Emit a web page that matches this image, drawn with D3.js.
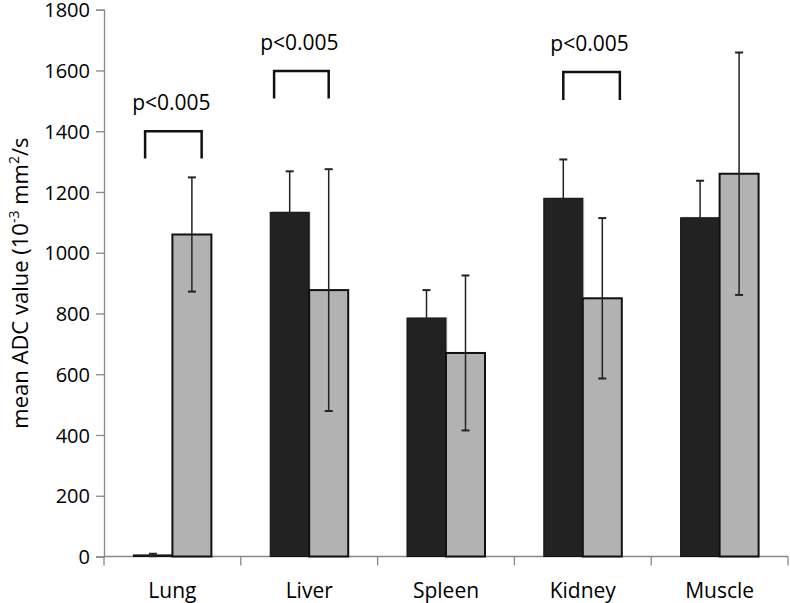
<!DOCTYPE html>
<html>
<head>
<meta charset="utf-8">
<script src="https://cdn.jsdelivr.net/npm/d3@7"></script>
<style>
  html, body { margin: 0; padding: 0; background: #fff; }
  svg { display: block; }
  text { font-family: "Open Sans", "Lato", sans-serif; fill: #000; }
</style>
</head>
<body>
<svg id="chart" width="790" height="603"></svg>
<script>
const categories = ["Lung", "Liver", "Spleen", "Kidney", "Muscle"];
const seriesA = [5, 1133, 785, 1179, 1115];      // dark bars
const errA    = [4, 135, 92, 128, 122];
const seriesB = [1060, 877, 670, 850, 1260];     // gray bars
const errB    = [188, 398, 255, 264, 399];
const yTicks  = [0, 200, 400, 600, 800, 1000, 1200, 1400, 1600, 1800];
// significance brackets: category, top value, leg bottom value, left/right offsets in bar widths from group start
const brackets = [
  { cat: "Lung",   top: 1400, bottom: 1310, x0: 0.3, x1: 1.75, label: "p<0.005" },
  { cat: "Liver",  top: 1598, bottom: 1508, x0: 0.1, x1: 1.5,  label: "p<0.005" },
  { cat: "Kidney", top: 1595, bottom: 1503, x0: 0.5, x1: 1.95, label: "p<0.005" }
];

const svg = d3.select("#chart");
const margin = { left: 104, right: 2, top: 9.7, bottom: 46.5 };
const W = 790, H = 603;

const x = d3.scaleBand().domain(categories).range([margin.left, W - margin.right]).paddingInner(0).paddingOuter(0);
const y = d3.scaleLinear().domain([0, 1800]).range([H - margin.bottom, margin.top]);

const barW = 39;
const groupOffset = (x.bandwidth() - 2 * barW) / 2;

// axes
const yAxis = d3.axisLeft(y).tickValues(yTicks).tickFormat(d3.format("d")).tickSize(8).tickPadding(6);
const gy = svg.append("g").attr("transform", `translate(${margin.left},0)`).call(yAxis);
gy.select(".domain").attr("stroke", "#888").attr("stroke-width", 1.3);
gy.selectAll(".tick line").attr("stroke", "#888").attr("stroke-width", 1.3);
gy.selectAll(".tick text").style("font-size", "20px").style("font-family", "'Open Sans', sans-serif").attr("dy", "0.36em");

const gx = svg.append("g").attr("transform", `translate(0,${y(0)})`);
gx.append("line").attr("x1", margin.left).attr("x2", W - margin.right)
  .attr("stroke", "#888").attr("stroke-width", 1.3);
// boundary ticks
const bounds = categories.map(c => x(c)).concat([x(categories[categories.length - 1]) + x.bandwidth()]);
gx.selectAll(".btick").data(bounds).enter().append("line")
  .attr("x1", d => d).attr("x2", d => d).attr("y1", 0).attr("y2", 9)
  .attr("stroke", "#888").attr("stroke-width", 1.3);
gx.selectAll(".xlab").data(categories).enter().append("text")
  .attr("x", d => x(d) + x.bandwidth() / 2)
  .attr("y", 41)
  .attr("text-anchor", "middle")
  .style("font-size", "21px")
  .text(d => d);

// bars
const data = categories.map((c, i) => ({ c, a: seriesA[i], ea: errA[i], b: seriesB[i], eb: errB[i] }));
const bars = svg.append("g");
data.forEach(d => {
  const xa = x(d.c) + groupOffset;
  bars.append("rect").attr("x", xa + 1.5).attr("y", y(d.a) - 1).attr("width", barW).attr("height", y(0) - y(d.a) + 1)
    .attr("fill", "#ddd");
  bars.append("rect").attr("x", xa).attr("y", y(d.a)).attr("width", barW).attr("height", y(0) - y(d.a))
    .attr("fill", "#222222").attr("stroke", "#111").attr("stroke-width", 1);
  bars.append("rect").attr("x", xa + barW).attr("y", y(d.b)).attr("width", barW).attr("height", y(0) - y(d.b))
    .attr("fill", "#b2b2b2").attr("stroke", "#111").attr("stroke-width", 2);
});

// error bars
const eg = svg.append("g").attr("stroke", "#222").attr("stroke-width", 1.5);
function errBar(cx, v, e) {
  eg.append("line").attr("x1", cx).attr("x2", cx).attr("y1", y(v + e)).attr("y2", y(Math.max(0, v - e)));
  eg.append("line").attr("x1", cx - 4).attr("x2", cx + 4).attr("y1", y(v + e)).attr("y2", y(v + e)).attr("stroke-width", 2);
  eg.append("line").attr("x1", cx - 4).attr("x2", cx + 4).attr("y1", y(Math.max(0, v - e))).attr("y2", y(Math.max(0, v - e))).attr("stroke-width", 2);
}
data.forEach(d => {
  const xa = x(d.c) + groupOffset;
  errBar(xa + barW / 2, d.a, d.ea);
  errBar(xa + barW * 1.5, d.b, d.eb);
});

// brackets
const bg = svg.append("g");
brackets.forEach(b => {
  const x0 = x(b.cat) + groupOffset + b.x0 * barW;
  const x1 = x(b.cat) + groupOffset + b.x1 * barW;
  bg.append("path")
    .attr("d", `M${x0},${y(b.bottom)}V${y(b.top)}H${x1}V${y(b.bottom)}`)
    .attr("fill", "none").attr("stroke", "#111").attr("stroke-width", 2.5);
  bg.append("text").attr("x", (x0 + x1) / 2 - 2).attr("y", y(b.top) - 21)
    .attr("text-anchor", "middle").style("font-size", "21px").text(b.label);
});

// y label
svg.append("text")
  .attr("transform", `translate(28,${(y(0) + y(1800)) / 2}) rotate(-90)`)
  .attr("text-anchor", "middle")
  .style("font-size", "22px")
  .html('mean ADC value (10<tspan dy="-9" font-size="14px">-3</tspan><tspan dy="9"> mm</tspan><tspan dy="-9" font-size="14px">2</tspan><tspan dy="9">/s</tspan>');
</script>
</body>
</html>
